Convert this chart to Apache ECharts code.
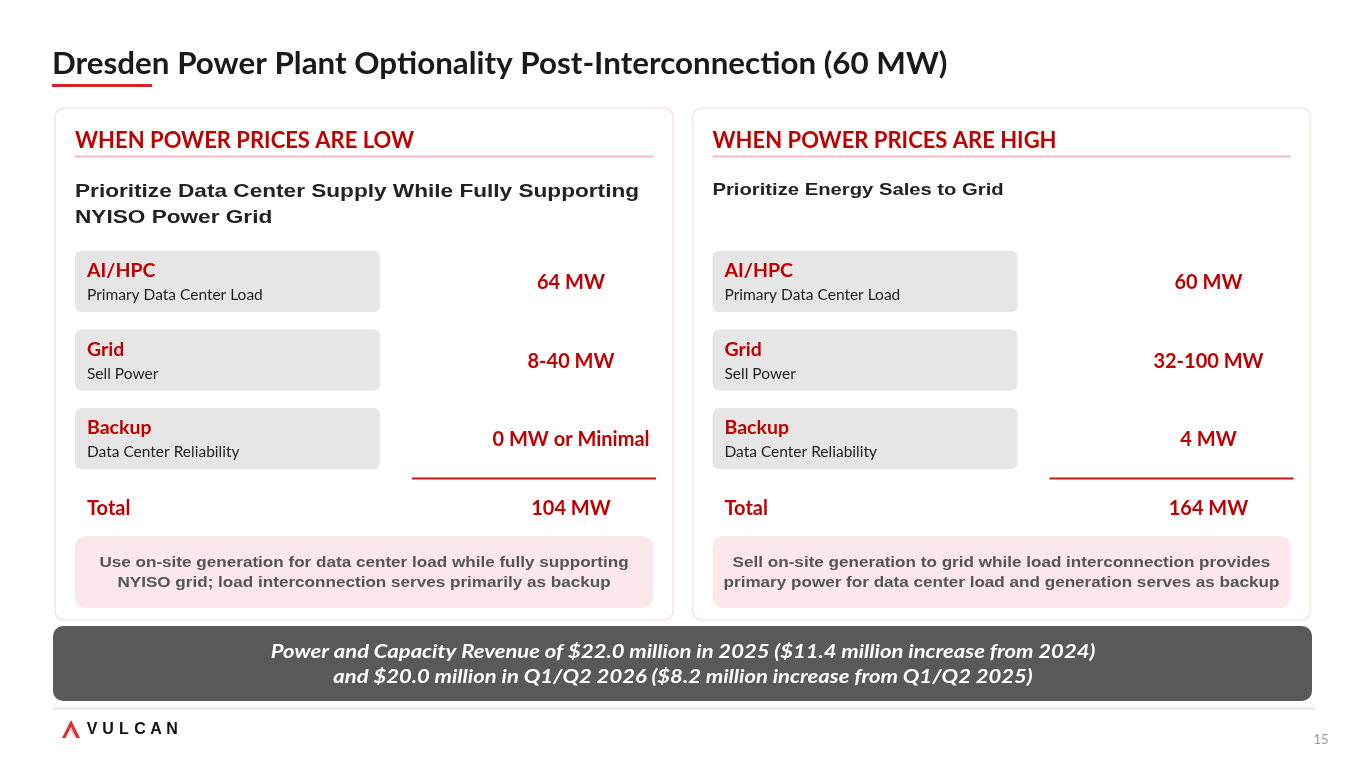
<!DOCTYPE html>
<html>
<head>
<meta charset="utf-8">
<script src="https://cdn.jsdelivr.net/npm/echarts@6/dist/echarts.min.js"></script>
<style>
  html, body { margin: 0; padding: 0; background: #fff; }
  #main { width: 1365px; height: 768px; }
</style>
</head>
<body>
<div id="main"></div>
<script>
var title = 'Dresden Power Plant Optionality Post-Interconnection (60 MW)';
var headings = ['WHEN POWER PRICES ARE LOW', 'WHEN POWER PRICES ARE HIGH'];
var subtitles = [
    ['Prioritize Data Center Supply While Fully Supporting', 'NYISO Power Grid'],
    ['Prioritize Energy Sales to Grid']
];
var categories = ['AI/HPC', 'Grid', 'Backup'];
var subLabels = ['Primary Data Center Load', 'Sell Power', 'Data Center Reliability'];
var lowValues = ['64 MW', '8-40 MW', '0 MW or Minimal'];
var highValues = ['60 MW', '32-100 MW', '4 MW'];
var totals = ['104 MW', '164 MW'];
var notes = [
    ['Use on-site generation for data center load while fully supporting', 'NYISO grid; load interconnection serves primarily as backup'],
    ['Sell on-site generation to grid while load interconnection provides', 'primary power for data center load and generation serves as backup']
];
var bannerLines = [
    'Power and Capacity Revenue of $22.0 million in 2025 ($11.4 million increase from 2024)',
    'and $20.0 million in Q1/Q2 2026 ($8.2 million increase from Q1/Q2 2025)'
];
var pageNo = '15';

var RED = '#c00000';
var CAL = 'Lato, "Open Sans", sans-serif';
var ARIAL = '"Liberation Sans", Arial, sans-serif';

var chart = echarts.init(document.getElementById('main'));
var els = [];

// text helper; sx stretches the glyphs horizontally around the anchor
function txt(x, y, s, size, color, weight, align, font, style, sx) {
    els.push({
        type: 'text',
        scaleX: sx || 1,
        originX: x,
        originY: y,
        style: {
            x: x, y: y, text: s, fill: color,
            font: (style || 'normal') + ' ' + (weight || 'normal') + ' ' + size + 'px ' + (font || CAL),
            textAlign: align || 'left', textVerticalAlign: 'middle'
        }
    });
}
function rect(x, y, w, h, r, fill, stroke) {
    els.push({
        type: 'rect',
        shape: {x: x, y: y, width: w, height: h, r: r},
        style: {fill: fill, stroke: stroke || null, lineWidth: stroke ? 1.5 : 0}
    });
}
function line(x1, y1, x2, y2, color, w) {
    els.push({
        type: 'line',
        shape: {x1: x1, y1: y1, x2: x2, y2: y2},
        style: {stroke: color, lineWidth: w}
    });
}

// title
txt(52, 64, title, 30, '#1a1a1a', 'bold', 'left', CAL, 'normal', 1.045);
line(52, 85.5, 152, 85.5, '#d8232a', 3);

// panels
var valueSets = [lowValues, highValues];
for (var p = 0; p < 2; p++) {
    var ox = p * 637.5;
    rect(55 + ox, 108, 618, 512, 9, '#ffffff', '#f9e3e5');
    txt(75 + ox, 141, headings[p], 22, RED, 'bold');
    line(75 + ox, 156.5, 653 + ox, 156.5, '#f6bcc2', 2);
    var subSize = p === 0 ? 19 : 17;
    for (var s = 0; s < subtitles[p].length; s++) {
        txt(75 + ox, (p === 0 ? 192 : 190) + s * 26, subtitles[p][s], subSize, '#222', 'bold', 'left', ARIAL, 'normal', 1.19);
    }
    for (var i = 0; i < categories.length; i++) {
        var by = 251 + i * 78.5;
        rect(75 + ox, by, 305, 61, 6, '#e6e6e6');
        txt(87 + ox, by + 20, categories[i], 19.5, RED, 'bold');
        txt(87 + ox, by + 44, subLabels[i], 15.5, '#222', 'normal');
        txt(571 + ox, by + 32, valueSets[p][i], 20, RED, 'bold', 'center');
    }
    line(412 + ox, 478.5, 656 + ox, 478.5, '#c41a1a', 2);
    txt(87 + ox, 509, 'Total', 20, RED, 'bold');
    txt(571 + ox, 509, totals[p], 20, RED, 'bold', 'center');
    rect(75 + ox, 536, 578, 72, 11, '#fce8ea');
    for (var n = 0; n < notes[p].length; n++) {
        txt(364 + ox, 563 + n * 20, notes[p][n], 15, '#555', 'bold', 'center', ARIAL, 'normal', 1.14);
    }
}

// banner
rect(53, 626, 1259, 75, 10, '#595959');
for (var b = 0; b < bannerLines.length; b++) {
    txt(683, 652.5 + b * 25, bannerLines[b], 18.5, '#ffffff', 'bold', 'center', CAL, 'italic', 1.19);
}
line(53, 708.5, 1315, 708.5, '#e3e3e3', 1.5);

// logo
els.push({
    type: 'polygon',
    shape: {points: [[62, 738], [71, 720], [80, 738], [76.5, 738], [71, 727], [65.5, 738]]},
    style: {fill: '#e52a34'}
});
line(71, 729, 75, 737, '#f08a8f', 1);
var logo = 'VULCAN';
for (var k = 0; k < logo.length; k++) {
    txt(92 + k * 16, 729.5, logo[k], 16, '#111', 'bold', 'center', ARIAL);
}

// page number
txt(1321, 740, pageNo, 13, '#9a9a9a', 'normal', 'center');

chart.setOption({
    animation: false,
    graphic: {elements: els}
});
</script>
</body>
</html>
